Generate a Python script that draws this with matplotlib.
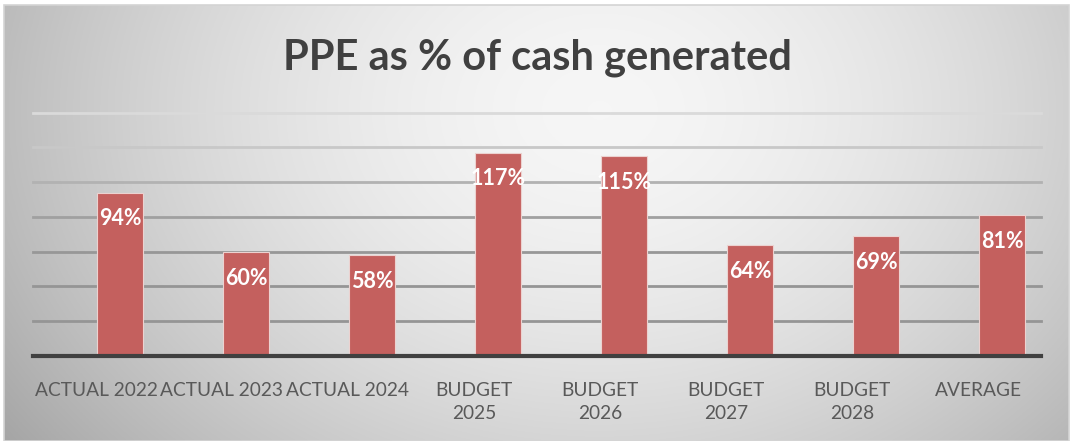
import numpy as np
import matplotlib
matplotlib.use('Agg')
import matplotlib.pyplot as plt
from matplotlib.patches import Rectangle

categories = ['ACTUAL 2022', 'ACTUAL 2023', 'ACTUAL 2024', 'BUDGET\n2025',
              'BUDGET\n2026', 'BUDGET\n2027', 'BUDGET\n2028', 'AVERAGE']
values = [94, 60, 58, 117, 115, 64, 69, 81]
title = 'PPE as % of cash generated'
grid_values = [20, 40, 60, 80, 100, 120, 140]

plt.rcParams['font.family'] = ['Lato', 'DejaVu Sans']

W, H = 1080, 441
fig = plt.figure(figsize=(W / 100, H / 100), dpi=100)
fig.patch.set_facecolor('white')

# chart-area background with radial gradient
L, R, T, B = 4, 1069, 5, 441
bg = fig.add_axes([L / W, 1 - B / H, (R - L) / W, (B - T) / H])
xx, yy = np.meshgrid(np.linspace(L, R, 700), np.linspace(T, B, 300))
cx, cy = 600, 110
r = np.sqrt(((xx - cx) / 560) ** 2 + ((yy - cy) / 430) ** 2)
val = np.clip(0.965 - 0.20 * r ** 1.7, 0, 1)
bg.imshow(np.dstack([val] * 3), extent=[0, 1, 0, 1], aspect='auto', origin='upper')
bg.set_xlim(0, 1)
bg.set_ylim(0, 1)
bg.axis('off')
fig.patches.append(Rectangle((L / W, 1 - B / H), (R - L) / W, (B - T) / H,
                             transform=fig.transFigure, fill=False,
                             edgecolor='#d4d4d4', linewidth=1.2))

# main plot axes
ax = fig.add_axes([33 / W, 1 - 356 / H, (1041 - 33) / W, (356 - 112.5) / H])
ax.patch.set_alpha(0)
x = np.arange(len(values))
offset = 0.19
ax.set_xlim(-0.5, len(values) - 0.5)
ax.set_ylim(0, 140)

grid_colors = ['#959595', '#959595', '#979797', '#a0a0a0', '#b2b2b2', '#c8c8c8', '#dadada']
for gv, gc in zip(grid_values, grid_colors):
    ax.axhline(gv, color=gc, linewidth=2, zorder=1, clip_on=False)

ax.bar(x + offset, values, width=0.37, color='#C4605E', edgecolor='#ecd2d0',
       linewidth=0.8, zorder=3)
ax.axhline(0, color='#404040', linewidth=3, zorder=4, clip_on=False)

for xi, v in zip(x, values):
    ax.annotate(f'{v}%', (xi + offset, v), xytext=(0, -19), textcoords='offset points',
                ha='center', va='center', color='white', fontsize=15.5,
                fontweight='bold', zorder=5)

for s in ax.spines.values():
    s.set_visible(False)
ax.set_yticks([])
ax.set_xticks(x)
ax.set_xticklabels(categories, fontsize=13.8, color='#595959', linespacing=1.4)
ax.tick_params(axis='x', length=0, pad=19)

fig.text(537 / W, 1 - 58 / H, title, ha='center', va='center', fontsize=30,
         color='#404040', fontweight='bold')

fig.savefig('out.png', dpi=100)
